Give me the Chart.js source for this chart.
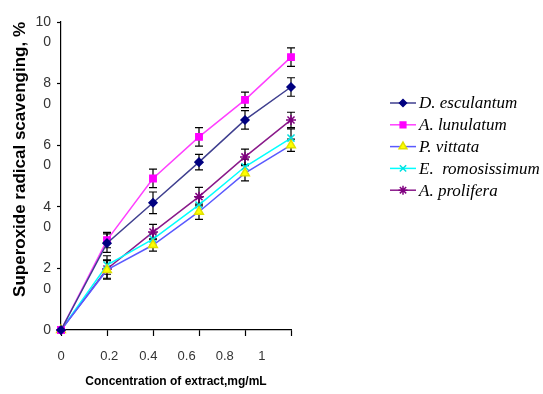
<!DOCTYPE html>
<html>
<head>
<meta charset="utf-8">
<script src="https://cdn.jsdelivr.net/npm/chart.js@4"></script>
<style>
  html, body { margin: 0; padding: 0; background: #fff; }
  #wrap { width: 543px; height: 394px; }
</style>
</head>
<body>
<div id="wrap"><canvas id="scavenging-chart" width="543" height="394"></canvas></div>
<script>
const concentrations = [0, 0.2, 0.4, 0.6, 0.8, 1.0];
const xTickLabels = ['0', '0.2', '0.4', '0.6', '0.8', '1'];
const yTickValues = [0, 20, 40, 60, 80, 100];

const seriesNames = ['D. esculantum', 'A. lunulatum', 'P. vittata', 'E.  romosissimum', 'A. prolifera'];
const dEsculantum   = [0, 28.2, 41.3, 54.5, 68.2, 78.9];
const aLunulatum    = [0, 29.2, 49.2, 62.7, 74.7, 88.6];
const pVittata      = [0, 19.5, 27.6, 38.4, 50.9, 60.0];
const eRomosissimum = [0, 21.1, 29.5, 40.6, 53.0, 62.3];
const aProlifera    = [0, 19.8, 31.8, 43.3, 56.2, 68.2];

const errEsculantum   = [0, 3.0, 3.5, 2.5, 3.0, 3.0];
const errLunulatum    = [0, 2.5, 3.0, 3.0, 2.5, 3.0];
const errVittata      = [0, 3.0, 2.0, 2.5, 2.5, 2.0];
const errRomosissimum = [0, 3.0, 2.0, 2.5, 2.5, 3.0];
const errProlifera    = [0, 3.0, 2.5, 3.0, 2.5, 2.5];

// where the x labels sit along the axis (they do not line up with the ticks in the original)
const xLabelSpots = [0, 0.21, 0.38, 0.546, 0.712, 0.873];

function points(values) {
  return values.map((v, i) => ({ x: concentrations[i], y: v }));
}

const styles = [
  { line: '#3f3f8f', fill: '#000080', stroke: '#000080', shape: 'rectRot', r: 4 },
  { line: '#ff40ff', fill: '#ff00ff', stroke: '#ff00ff', shape: 'rect', r: 4.5 },
  { line: '#5a5aff', fill: '#ffff00', stroke: '#e0e000', shape: 'triangle', r: 5 },
  { line: '#00ffff', fill: '#00ffff', stroke: '#00e0e0', shape: 'crossRot', r: 5 },
  { line: '#8a1a8a', fill: '#800080', stroke: '#800080', shape: 'star', r: 5 }
];
const values = [dEsculantum, aLunulatum, pVittata, eRomosissimum, aProlifera];
const errors = [errEsculantum, errLunulatum, errVittata, errRomosissimum, errProlifera];

const datasets = values.map((v, i) => ({
  label: seriesNames[i],
  data: points(v),
  errors: errors[i],
  borderColor: styles[i].line,
  borderWidth: 1.5,
  pointStyle: styles[i].shape,
  pointRadius: styles[i].r,
  pointBackgroundColor: styles[i].fill,
  pointBorderColor: styles[i].stroke,
  pointBorderWidth: 1.5,
  fill: false,
  tension: 0,
  clip: false
}));

const errorBars = {
  id: 'errorBars',
  beforeDatasetsDraw(chart) {
    const ctx = chart.ctx;
    const y = chart.scales.y;
    ctx.save();
    ctx.strokeStyle = '#000';
    ctx.lineWidth = 1.2;
    chart.data.datasets.forEach((ds, i) => {
      chart.getDatasetMeta(i).data.forEach((pt, j) => {
        const e = ds.errors[j];
        if (!e) return;
        const v = ds.data[j].y;
        const top = y.getPixelForValue(v + e);
        const bot = y.getPixelForValue(v - e);
        ctx.beginPath();
        ctx.moveTo(pt.x, top); ctx.lineTo(pt.x, bot);
        ctx.moveTo(pt.x - 4, top); ctx.lineTo(pt.x + 4, top);
        ctx.moveTo(pt.x - 4, bot); ctx.lineTo(pt.x + 4, bot);
        ctx.stroke();
      });
    });
    ctx.restore();
  }
};

const sideLegend = {
  id: 'sideLegend',
  afterDraw(chart) {
    const ctx = chart.ctx;
    const x0 = 390, y0 = 103, step = 21.8;
    ctx.save();
    ctx.font = 'italic 17px "Liberation Serif", "Times New Roman", serif';
    ctx.textBaseline = 'middle';
    chart.data.datasets.forEach((ds, i) => {
      const yy = y0 + i * step;
      ctx.strokeStyle = ds.borderColor;
      ctx.lineWidth = 1.5;
      ctx.beginPath();
      ctx.moveTo(x0, yy); ctx.lineTo(x0 + 26, yy);
      ctx.stroke();
      ctx.fillStyle = ds.pointBackgroundColor;
      ctx.strokeStyle = ds.pointBorderColor;
      ctx.beginPath();
      Chart.helpers.drawPoint(ctx, {
        pointStyle: ds.pointStyle,
        radius: ds.pointRadius - 0.5,
        borderWidth: 1.5,
        rotation: 0
      }, x0 + 13, yy);
      ctx.fillStyle = '#000';
      ctx.fillText(ds.label, x0 + 29, yy + 1);
    });
    ctx.restore();
  }
};

const tickFamily = '"Liberation Sans", Arial, sans-serif';

new Chart(document.getElementById('scavenging-chart'), {
  type: 'line',
  data: { datasets: datasets },
  plugins: [errorBars, sideLegend],
  options: {
    responsive: false,
    animation: false,
    layout: { padding: { top: 22, right: 252, left: 0, bottom: 0 } },
    plugins: {
      legend: { display: false },
      tooltip: { enabled: false }
    },
    scales: {
      x: {
        type: 'linear',
        min: 0,
        max: 1,
        afterBuildTicks: (scale) => { scale.ticks = concentrations.map(v => ({ value: v })); },
        ticks: { display: false },
        grid: { drawOnChartArea: false, color: '#000', tickLength: 6, tickWidth: 1.2 },
        border: { color: '#000', width: 1.2 },
        afterFit: (scale) => { scale.height = 6; scale.paddingLeft = 0; scale.paddingRight = 0; }
      },
      xLabels: {
        type: 'linear',
        position: 'bottom',
        min: 0,
        max: 1,
        afterBuildTicks: (scale) => { scale.ticks = xLabelSpots.map(v => ({ value: v })); },
        ticks: {
          autoSkip: false,
          maxRotation: 0,
          padding: 13,
          color: '#333',
          font: { family: tickFamily, size: 13 },
          callback: (value, index) => xTickLabels[index]
        },
        grid: { display: false, drawTicks: false },
        border: { display: false },
        title: {
          display: true,
          text: 'Concentration of extract,mg/mL',
          color: '#000',
          font: { family: tickFamily, size: 12, weight: 'bold' },
          padding: { top: 4, bottom: 5 }
        },
        afterFit: (scale) => { scale.height = 58; scale.paddingLeft = 0; scale.paddingRight = 0; }
      },
      y: {
        min: 0,
        max: 100,
        afterBuildTicks: (scale) => { scale.ticks = yTickValues.map(v => ({ value: v })); },
        ticks: {
          autoSkip: false,
          padding: 6,
          color: '#333',
          font: { family: tickFamily, size: 14, lineHeight: 1.45 },
          callback: (value) => {
            const s = String(value);
            return s.length > 1 ? ['', s.slice(0, -1), s.slice(-1)] : s;
          }
        },
        grid: { drawOnChartArea: false, color: '#000', tickLength: 4, tickWidth: 1.2 },
        border: { color: '#000', width: 1.2 },
        title: {
          display: true,
          text: '       Superoxide radical scavenging, %',
          color: '#000',
          font: { family: tickFamily, size: 17, weight: 'bold' },
          padding: { top: 10, bottom: 0 }
        },
        afterFit: (scale) => { scale.width = 61; scale.paddingTop = 0; scale.paddingBottom = 0; }
      }
    }
  }
});
</script>
</body>
</html>
